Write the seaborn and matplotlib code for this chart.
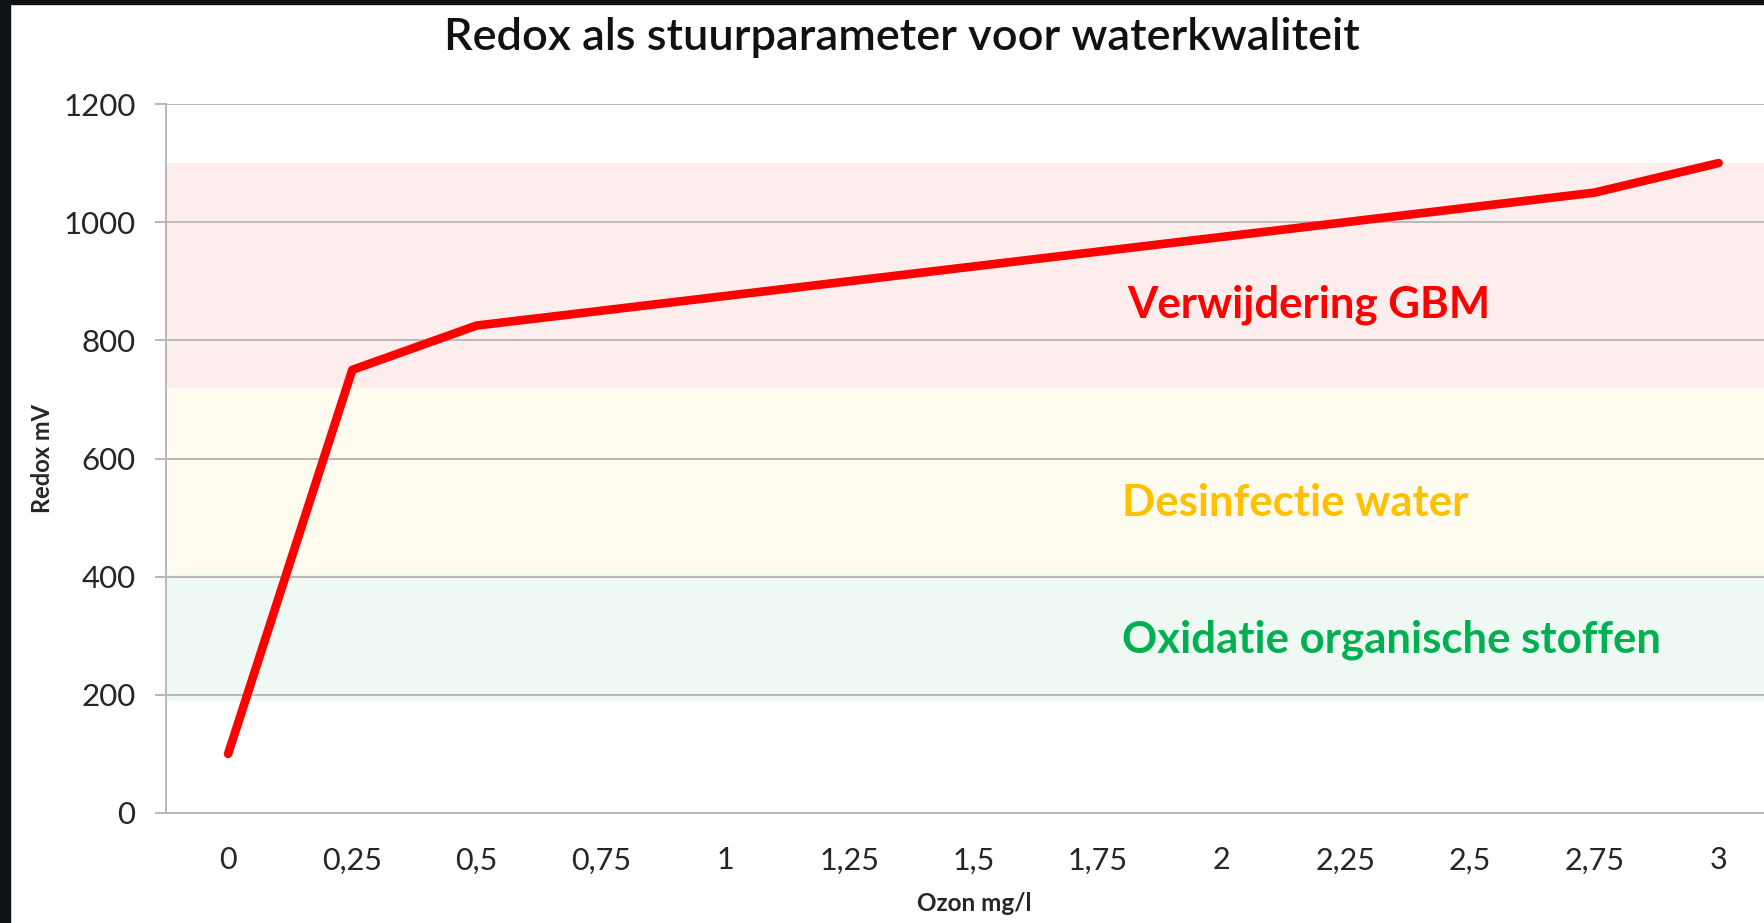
import matplotlib
matplotlib.use("Agg")
import matplotlib.pyplot as plt
import seaborn as sns
import pandas as pd
from matplotlib.patches import Rectangle

# ---- data ----
ozon = [0, 0.25, 0.5, 0.75, 1, 1.25, 1.5, 1.75, 2, 2.25, 2.5, 2.75, 3]
redox = [100, 750, 825, 850, 875, 900, 925, 950, 975, 1000, 1025, 1050, 1100]
x_tick_labels = ["0", "0,25", "0,5", "0,75", "1", "1,25", "1,5", "1,75", "2",
                 "2,25", "2,5", "2,75", "3"]
y_ticks = [0, 200, 400, 600, 800, 1000, 1200]

zone_names = ["Verwijdering GBM", "Desinfectie water", "Oxidatie organische stoffen"]
zone_low = [720, 405, 190]
zone_high = [1100, 720, 405]
zone_fill = ["#fdeded", "#fffbee", "#edf9f2"]
zone_text_color = ["#ff0000", "#ffc000", "#00b050"]
zone_text_x = [1.81, 1.80, 1.80]
zone_text_y = [860, 525, 293]

title = "Redox als stuurparameter voor waterkwaliteit"
xlabel = "Ozon mg/l"
ylabel = "Redox mV"

df = pd.DataFrame({"Ozon": ozon, "Redox": redox})

sns.set_theme(style="white")
plt.rcParams["font.family"] = ["Lato", "DejaVu Sans"]

W, H = 1765, 923
fig = plt.figure(figsize=(W / 100, H / 100), dpi=100)
ax = fig.add_axes([166 / W, 1 - 813 / H, 1 - 166 / W, (813 - 104) / H])

for lo, hi, c in zip(zone_low, zone_high, zone_fill):
    ax.axhspan(lo, hi, color=c, zorder=0, lw=0)

ax.set_yticks(y_ticks)
ax.grid(axis="y", color="#b8b8b8", linewidth=1.4, zorder=1)
ax.set_axisbelow(True)

sns.lineplot(data=df, x="Ozon", y="Redox", ax=ax, color="#ff0000",
             linewidth=6.2, solid_capstyle="round", solid_joinstyle="round",
             zorder=5)

ax.set_xlim(-0.125, (W - 228.5) / 496.7)
ax.set_ylim(0, 1200)
ax.set_xticks(ozon)
ax.set_xticklabels(x_tick_labels)

for name, tx, ty, tc in zip(zone_names, zone_text_x, zone_text_y, zone_text_color):
    ax.text(tx, ty, name, color=tc, fontsize=31.5, fontweight="bold",
            ha="left", va="center", zorder=6)

for s in ["top", "right"]:
    ax.spines[s].set_visible(False)
for s in ["left", "bottom"]:
    ax.spines[s].set_color("#b8b8b8")
    ax.spines[s].set_linewidth(1.4)

ax.tick_params(axis="y", which="both", left=True, length=8, width=1.4,
               color="#b8b8b8", pad=14, labelsize=22.5, labelcolor="#262626")
ax.tick_params(axis="x", which="both", bottom=False, length=0, pad=24,
               labelsize=22, labelcolor="#262626")

ax.set_xlabel(xlabel, fontsize=17.5, fontweight="bold", color="#262626")
ax.set_ylabel(ylabel, fontsize=17, fontweight="bold", color="#262626")
ax.xaxis.set_label_coords((974 - 166) / (W - 166), -(892 - 813) / (813 - 104))
ax.yaxis.set_label_coords(-(166 - 54) / (W - 166), 0.5)

fig.text(902 / W, 1 - 38 / H, title, fontsize=32.5, fontweight=600,
         ha="center", va="center", color="#111111")

# dark screenshot border (left and top)
fig.patches.append(Rectangle((0, 0), 10 / W, 1, transform=fig.transFigure,
                             color="#0e1214", zorder=10))
fig.patches.append(Rectangle((0, 1 - 4 / H), 1, 4 / H, transform=fig.transFigure,
                             color="#0e1214", zorder=10))

fig.savefig("out.png", dpi=100)
